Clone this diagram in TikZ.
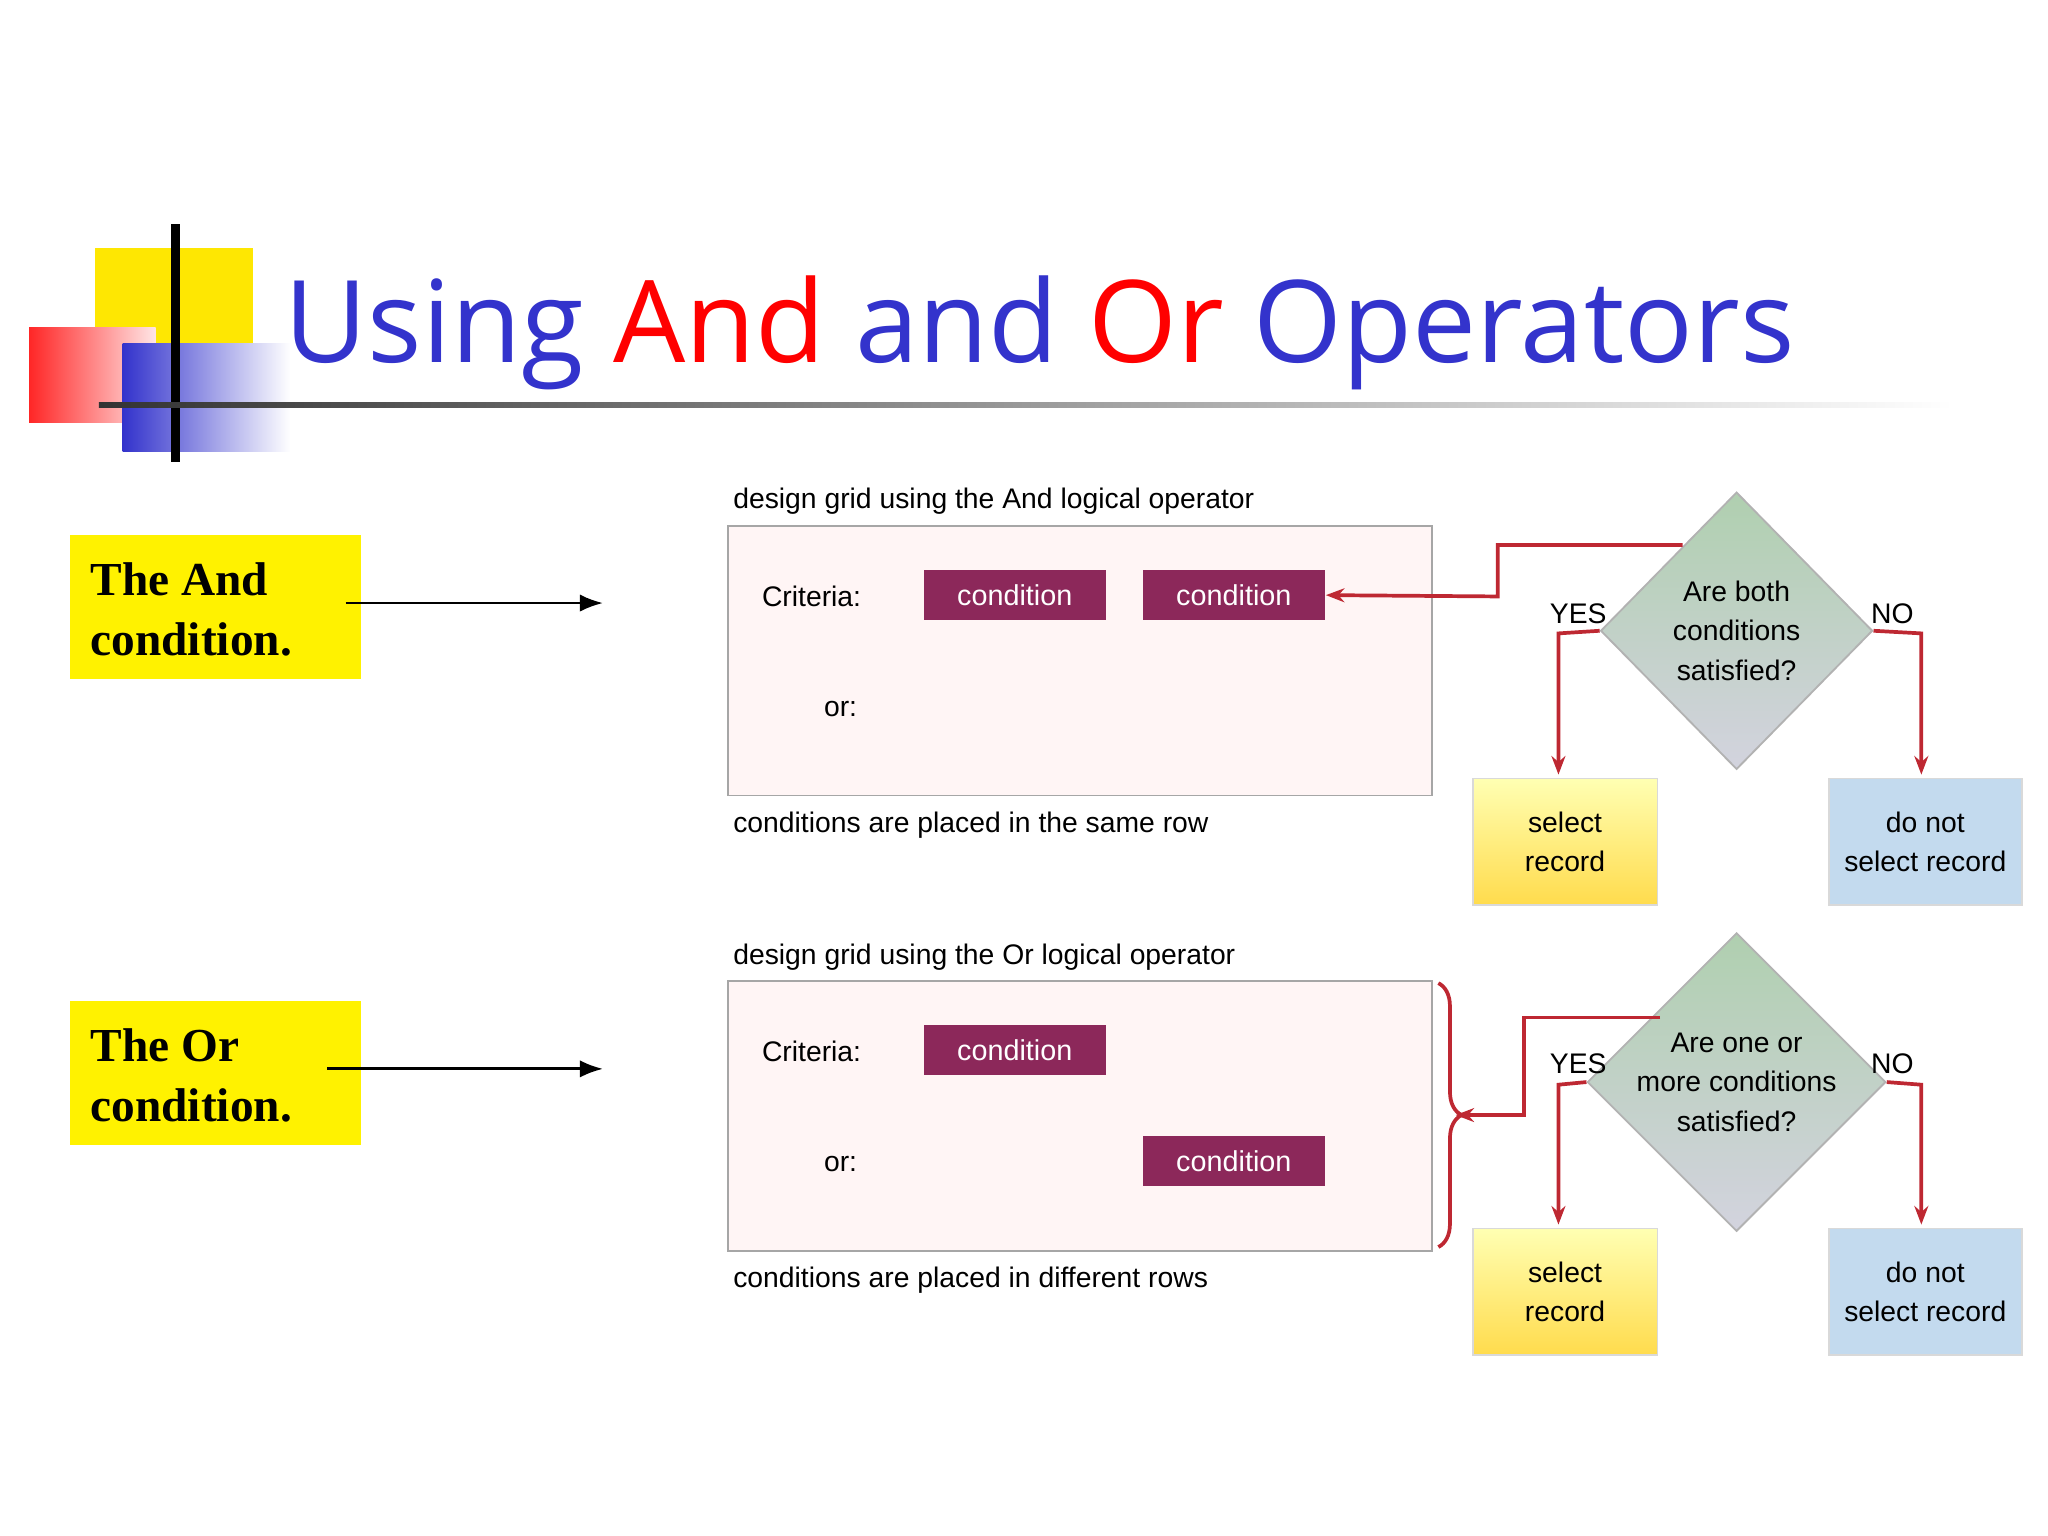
\documentclass[tikz,border=0pt]{standalone}
\usepackage{fontspec}
\setmainfont{Liberation Sans}
\newfontfamily\titlefont{Open Sans}
\newfontfamily\serifb{Liberation Serif}
\usetikzlibrary{shapes.geometric,arrows.meta,decorations.pathreplacing}
\definecolor{tblue}{RGB}{51,51,204}
\definecolor{cond}{RGB}{140,40,90}
\definecolor{redl}{RGB}{190,40,50}
\definecolor{nob}{RGB}{195,218,238}
\tikzset{
 ybox/.style={fill=yellow,minimum width=2.21cm,minimum height=1.09cm,inner sep=0pt},
 ytext/.style={align=left,font=\serifb\bfseries\fontsize{10.2}{13}\selectfont,inner sep=0pt},
 grid/.style={draw=gray!70,fill=red!4,minimum width=5.33cm,minimum height=2.04cm,inner sep=0pt},
 condbox/.style={fill=cond,text=white,minimum width=1.38cm,minimum height=0.38cm,inner sep=0pt,font=\fontsize{6.2}{7}\selectfont},
 lab/.style={font=\fontsize{6.1}{8}\selectfont,inner sep=0pt},
 dia/.style={diamond,draw=gray!60,top color=green!25!gray!50,bottom color=blue!15!gray!30,minimum width=2.06cm,minimum height=2.1cm,inner sep=0pt,align=center,font=\fontsize{6.1}{8.5}\selectfont},
 selbox/.style={top color=yellow!30,bottom color=yellow!60!orange!70,draw=gray!30,minimum width=1.4cm,minimum height=0.96cm,align=center,font=\fontsize{6.1}{8.5}\selectfont},
 nobox/.style={fill=nob,draw=gray!30,minimum width=1.42cm,minimum height=0.96cm,align=center,font=\fontsize{6.1}{8.5}\selectfont},
 rl/.style={draw=redl,line width=0.8pt},
 ra/.style={rl,-{Stealth[length=4pt]}},
 ba/.style={-{Latex[length=5pt]},line width=0.6pt}
}
\begin{document}
\begin{tikzpicture}[x=0.01cm,y=-0.01cm]
\useasboundingbox (0,0) rectangle (1552,1164);
% decoration
\fill[yellow!90!orange] (72,188) rectangle (192,300);
\shade[left color=red!85,right color=red!10] (22,248) rectangle (118,320);
\shade[left color=tblue,right color=white] (93,260) rectangle (220,342);
\draw[line width=2pt] (133,170) -- (133,350);
\shade[left color=black!80,right color=white] (75,305) rectangle (1480,309);
\node[anchor=base west,inner sep=0pt,text=tblue,font=\titlefont\fontsize{24.6}{30}\selectfont] (title) at (215,275) {Using \textcolor{red}{And} and \textcolor{red}{Or} Operators};
% left labels
\node[ybox,anchor=north west] (yand) at (52,405) {};
\node[ytext,anchor=west] (tand) at (68,462) {The And\\condition.};
\node[ybox,anchor=north west] (yor) at (52,758) {};
\node[ytext,anchor=west] (tor) at (68,815) {The Or\\condition.};
\coordinate (a1s) at (262,457); \coordinate (a1e) at (457,457);
\coordinate (a2s) at (248,810); \coordinate (a2e) at (457,810);
\draw[ba] (a1s) -- (a1e);
\draw[ba] (a2s) -- (a2e);
% AND grid
\node[grid,anchor=north west] (g1) at (551,398) {};
\node[lab,anchor=west] at (555,380) {design grid using the And logical operator};
\node[lab,anchor=west] at (555,625) {conditions are placed in the same row};
\node[lab] at (615,452) {Criteria:};
\node[lab] at (637,537) {or:};
\node[condbox] (c11) at (769,451) {condition};
\node[condbox] (c12) at (935,451) {condition};
\node[dia] (d1) at (1316,478) {Are both\\conditions\\satisfied?};
\node[selbox] (s1) at (1186,638) {select\\record};
\node[nobox] (n1) at (1459,638) {do not\\select record};
\node[lab] at (1196,465) {YES};
\node[lab] at (1434,465) {NO};
\draw[ra] (1275,413) -- (1135,413) -- (1135,452) -- (c12.east);
\draw[ra] (d1.west) -- (1181,480) -- (1181,587);
\draw[ra] (d1.east) -- (1456,480) -- (1456,587);
% OR grid
\node[grid,anchor=north west] (g2) at (551,743) {};
\node[lab,anchor=west] at (555,725) {design grid using the Or logical operator};
\node[lab,anchor=west] at (555,970) {conditions are placed in different rows};
\node[lab] at (615,797) {Criteria:};
\node[lab] at (637,882) {or:};
\node[condbox] (c21) at (769,796) {condition};
\node[condbox] (c22) at (935,880) {condition};
\node[dia] (d2) at (1316,820) {Are one or\\more conditions\\satisfied?};
\node[selbox] (s2) at (1186,979) {select\\record};
\node[nobox] (n2) at (1459,979) {do not\\select record};
\node[lab] at (1196,806) {YES};
\node[lab] at (1434,806) {NO};
\draw[rl,decorate,decoration={brace,amplitude=5pt}] (1090,745) -- (1090,945);
\draw[ra] (1258,771) -- (1155,771) -- (1155,845) -- (1103,845);
\draw[ra] (d2.west) -- (1181,822) -- (1181,928);
\draw[ra] (d2.east) -- (1456,822) -- (1456,928);
\end{tikzpicture}
\end{document}
